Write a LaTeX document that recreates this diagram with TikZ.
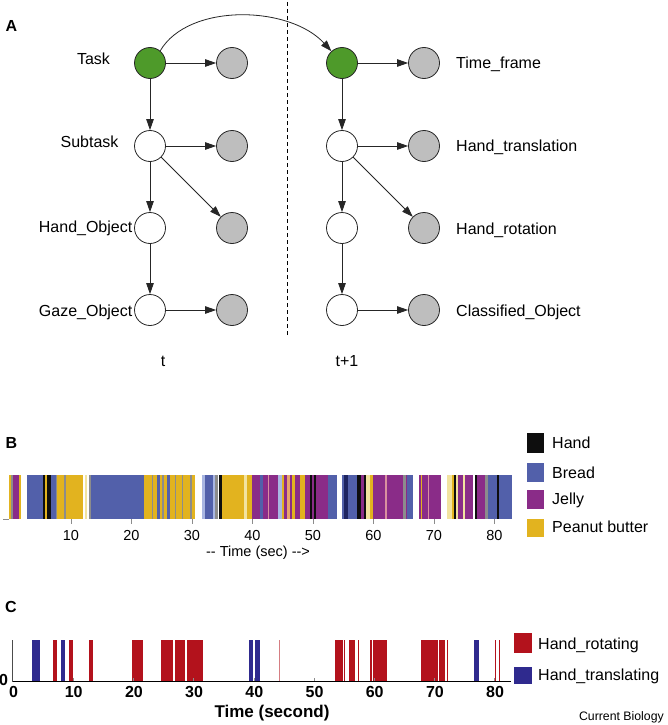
\documentclass[tikz,border=0pt]{standalone}
\usepackage{fontspec}
\setmainfont{Liberation Sans}
\usetikzlibrary{arrows.meta}
\definecolor{nodegreen}{HTML}{4E9A2A}
\definecolor{nodegray}{HTML}{BEBEBE}
\definecolor{br}{HTML}{5260AA}
\definecolor{je}{HTML}{8A2C88}
\definecolor{pb}{HTML}{E2B31F}
\definecolor{hd}{HTML}{0E0E0E}
\definecolor{gl}{HTML}{8C8C8C}
\definecolor{lpb}{HTML}{F2E3A0}
\definecolor{lbr}{HTML}{A9B6E2}
\definecolor{pk}{HTML}{D9909F}
\definecolor{pc}{HTML}{E7A46E}
\definecolor{nv}{HTML}{1E2460}
\definecolor{hred}{HTML}{B3121C}
\definecolor{hblue}{HTML}{2F2A8E}
\definecolor{baseline}{HTML}{7B6FC0}
\tikzset{
  nd/.style={circle, draw=black!85, line width=0.8pt, minimum size=31pt, inner sep=0pt},
  gnode/.style={nd, fill=nodegreen},
  wnode/.style={nd, fill=white},
  hnode/.style={nd, fill=nodegray},
  arr/.style={-{Triangle[length=11pt,width=7.5pt]}, line width=0.8pt, draw=black!85},
  lab/.style={font=\fontsize{16}{19}\selectfont, inner sep=0pt},
  panel/.style={font=\fontsize{16}{19}\selectfont\bfseries, inner sep=0pt, anchor=base},
  tickB/.style={font=\fontsize{14.5}{17}\selectfont, inner sep=0pt, anchor=base},
  tickC/.style={font=\fontsize{16}{19}\selectfont\bfseries, inner sep=0pt, anchor=base},
}
\begin{document}
\begin{tikzpicture}[x=1pt,y=-1pt]
\useasboundingbox (0,0) rectangle (667,725);
\fill[white] (0,0) rectangle (667,725);

% ---------- Panel A ----------
\node[panel] (lA) at (11.5,31.5) {A};
\draw[line width=1pt, dash pattern=on 4pt off 3pt] (287,2) -- (287,337);

\node[gnode] (task) at (150,63) {};
\node[hnode] (g1) at (232,63) {};
\node[wnode] (sub) at (150,146) {};
\node[hnode] (g2) at (232,146) {};
\node[wnode] (ho) at (150,228) {};
\node[hnode] (g3) at (232,228) {};
\node[wnode] (go) at (150,310) {};
\node[hnode] (g4) at (232,310) {};

\node[gnode] (taskB) at (342,63) {};
\node[hnode] (h1) at (424,63) {};
\node[wnode] (subB) at (342,146) {};
\node[hnode] (h2) at (424,146) {};
\node[wnode] (hoB) at (342,228) {};
\node[hnode] (h3) at (424,228) {};
\node[wnode] (goB) at (342,310) {};
\node[hnode] (h4) at (424,310) {};

\draw[arr] (task) -- (g1);
\draw[arr] (task) -- (sub);
\draw[arr] (sub) -- (g2);
\draw[arr] (sub) -- (g3);
\draw[arr] (sub) -- (ho);
\draw[arr] (ho) -- (go);
\draw[arr] (go) -- (g4);

\draw[arr] (taskB) -- (h1);
\draw[arr] (taskB) -- (subB);
\draw[arr] (subB) -- (h2);
\draw[arr] (subB) -- (h3);
\draw[arr] (subB) -- (hoB);
\draw[arr] (hoB) -- (goB);
\draw[arr] (goB) -- (h4);

\draw[arr] (task.50) .. controls +(28,-48) and +(-42,-46) .. (taskB.132);

\node[lab, anchor=base] (lt1) at (93.5,64) {Task};
\node[lab, anchor=base] (lt2) at (89.5,147) {Subtask};
\node[lab, anchor=base east] (lt3) at (132.5,232) {Hand\_Object};
\node[lab, anchor=base east] (lt4) at (132.5,316) {Gaze\_Object};
\node[lab, anchor=base west] (rt1) at (456,69) {Time\_frame};
\node[lab, anchor=base west] (rt2) at (456,151) {Hand\_translation};
\node[lab, anchor=base west] (rt3) at (456,234) {Hand\_rotation};
\node[lab, anchor=base west] (rt4) at (456,316) {Classified\_Object};
\node[lab, anchor=base] (tl) at (163,366) {t};
\node[lab, anchor=base] (tl2) at (347,366) {t+1};

% ---------- Panel B ----------
\node[panel] (lB) at (11.5,448) {B};
\foreach \a/\b/\c in {9/11.3/pb, 11.3/13.3/gl, 13.3/19/je, 19/21/pb, 21/26.7/white, 26.7/43.3/br, 43.3/45/hd, 45/47.3/pb, 47.3/50.7/hd, 50.7/55.7/br, 55.7/57.3/gl, 57.3/64.3/pb, 64.3/66/gl, 66/82.7/pb, 82.7/85/white, 85/86.7/lpb, 86.7/89/white, 89/91/gl, 91/144.3/br, 144.3/151.7/pb, 151.7/153.3/gl, 153.3/156.7/pb, 156.7/160/br, 160/162.3/pb, 162.3/164.3/gl, 164.3/166.7/pb, 166.7/170/br, 170/175/pb, 175/176/gl, 176/181.7/pb, 181.7/183.3/gl, 183.3/190/pb, 190/192.3/gl, 192.3/195/pb, 195/201.7/white, 201.7/205/lbr, 205/213.3/br, 213.3/215/lbr, 215/217.7/gl, 217.7/219/white, 219/222.3/hd, 222.3/244.3/pb, 244.3/246.7/lpb, 246.7/251.7/pb, 251.7/260/je, 260/263.3/br, 263.3/268.3/je, 268.3/269.3/pk, 269.3/278.3/je, 278.3/281.7/lbr, 281.7/284.3/pb, 284.3/286.7/je, 286.7/290/pc, 290/292.3/je, 292.3/295/pb, 295/300/je, 300/305/pb, 305/310/je, 310/312.3/hd, 312.3/314.3/je, 314.3/315.7/hd, 315.7/328.3/je, 328.3/336.7/br, 336.7/342.3/white, 342.3/344.3/br, 344.3/348.3/nv, 348.3/356.7/br, 356.7/361/hd, 361/364.3/je, 364.3/366/hd, 366/370/lpb, 370/373.3/pb, 373.3/385/je, 385/386.7/pk, 386.7/403.3/je, 403.3/405.7/gl, 405.7/406.7/je, 406.7/413.3/br, 413.3/419/white, 419/421/je, 421/422.3/pb, 422.3/428.3/je, 428.3/429/pk, 429/441/je, 441/446.7/white, 446.7/451.7/lpb, 451.7/454/pb, 454/455.7/hd, 455.7/457.7/lpb, 457.7/463.3/je, 463.3/465/lpb, 465/473.3/je, 473.3/475/white, 475/476.7/hd, 476.7/485/je, 485/487.7/gl, 487.7/496.7/br, 496.7/499/hd, 499/511.7/br}
  { \fill[\c] (\a,475) rectangle (\b,519); }
\draw[gl, line width=0.6pt] (3,519.5) -- (9,519.5);
\foreach \t in {10,20,...,80} {
  \draw[gl, line width=0.6pt] ({10.4+6.05*\t},519) -- ({10.4+6.05*\t},523.5);
  \node[tickB] at ({10.4+6.05*\t},540) {\t};
}
\node[font=\fontsize{14.5}{17}\selectfont, inner sep=0pt, anchor=base] (tlabB) at (258,556) {-{}- Time (sec) -{}->};

\fill[hd] (527,433) rectangle (544,453);
\fill[br] (527,463) rectangle (544,482);
\fill[je] (527,490) rectangle (544,509);
\fill[pb] (527,519) rectangle (544,537);
\node[lab, anchor=base west] (lgB1) at (552,448) {Hand};
\node[lab, anchor=base west] (lgB2) at (552,478) {Bread};
\node[lab, anchor=base west] (lgB3) at (552,504) {Jelly};
\node[lab, anchor=base west] (lgB4) at (552,532) {Peanut butter};

% ---------- Panel C ----------
\node[panel] (lC) at (11,612) {C};
\foreach \a/\b in {32/40, 61.3/65, 249.3/253.3, 254.7/259.7, 473.7/478.7}
  { \fill[hblue] (\a,640) rectangle (\b,681); }
\foreach \a/\b in {53.3/57.3, 68.7/73.3, 89.3/92.7, 132/143.3, 160.7/173.3, 175.3/183.7, 184.3/185.3, 186.7/202.7, 334.7/343.3, 344/345.3, 348.7/354.7, 358/358.8, 370/372.3, 373/386.7, 420.7/437.5, 438.5/445, 447.3/448.3, 495.3/496, 499/499.8}
  { \fill[hred] (\a,640) rectangle (\b,681); }
\fill[hred!55] (278.9,640) rectangle (279.8,681);
\draw[baseline, line width=1pt] (12,681) -- (511,681);
\draw[black!70, line width=0.6pt] (12.3,640) -- (12.3,681.5);
\foreach \t in {10,20,...,80} {
  \draw[gl, line width=0.6pt] ({13+6.02*\t},681) -- ({13+6.02*\t},677.5);
}
\foreach \t in {0,10,...,80} {
  \node[tickC] at ({13.5+6.02*\t},697) {\t};
}
\node[tickC] (y0) at (3.5,685) {0};
\node[font=\fontsize{17}{20}\selectfont\bfseries, inner sep=0pt, anchor=base] (tlabC) at (272,717) {Time (second)};
\fill[hred] (514,633) rectangle (532,653);
\fill[hblue] (514,667) rectangle (532,684);
\node[lab, anchor=base west] (lgC1) at (538,649) {Hand\_rotating};
\node[lab, anchor=base west] (lgC2) at (538,680) {Hand\_translating};
\node[font=\fontsize{12.3}{15}\selectfont, inner sep=0pt, anchor=base east] (cb) at (664,720) {Current Biology};
\end{tikzpicture}
\end{document}
